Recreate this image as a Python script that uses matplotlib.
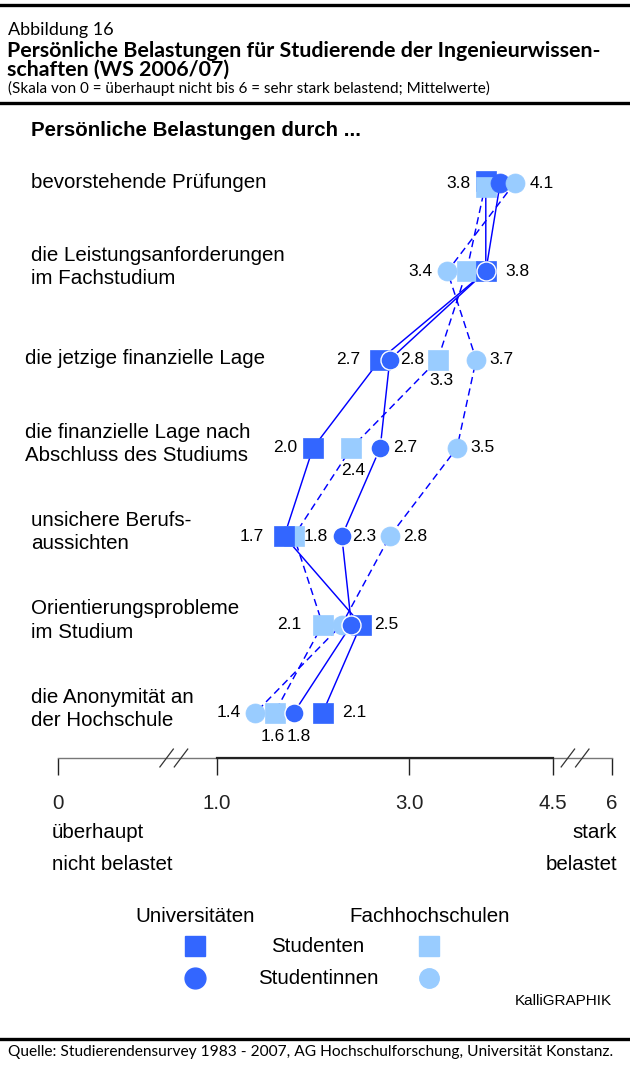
import numpy as np
import matplotlib
matplotlib.use('Agg')
import matplotlib.pyplot as plt
import matplotlib.transforms as mtransforms

# --- data -----------------------------------------------------------------
categories = [
    'bevorstehende Prüfungen',
    'die Leistungsanforderungen\nim Fachstudium',
    'die jetzige finanzielle Lage',
    'die finanzielle Lage nach\nAbschluss des Studiums',
    'unsichere Berufs-\naussichten',
    'Orientierungsprobleme\nim Studium',
    'die Anonymität an\nder Hochschule',
]
uni_m = [3.8, 3.8, 2.7, 2.0, 1.7, 2.5, 2.1]   # Universitäten, Studenten
uni_w = [3.95, 3.8, 2.8, 2.7, 2.3, 2.4, 1.8]  # Universitäten, Studentinnen
fh_m = [3.8, 3.6, 3.3, 2.4, 1.8, 2.1, 1.6]    # Fachhochschulen, Studenten
fh_w = [4.1, 3.4, 3.7, 3.5, 2.8, 2.3, 1.4]    # Fachhochschulen, Studentinnen

tick_pos = [-0.66, 1.0, 3.0, 4.5, 5.11]       # broken axis: 0 and 6 sit off-scale
tick_labels = ['0', '1.0', '3.0', '4.5', '6']

DARK = '#3366ff'
LIGHT = '#99ccff'
LINE = '#0000ff'
CHART_FONT = 'Liberation Sans'
HEAD_FONT = 'Lato'
FS = 14.8

series = {
    'fh_m': dict(vals=fh_m, marker='s', color=LIGHT, ls=(0, (5, 3)), z=3.0, edge=LIGHT),
    'uni_m': dict(vals=uni_m, marker='s', color=DARK, ls='-', z=3.1, edge=DARK),
    'uni_w': dict(vals=uni_w, marker='o', color=DARK, ls='-', z=3.4, edge='white'),
    'fh_w': dict(vals=fh_w, marker='o', color=LIGHT, ls=(0, (5, 3)), z=3.3, edge=LIGHT),
}

# top row is stacked in its own order; squares nudged apart (pixels, + = down)
nudge = {('uni_m', 0): -2, ('fh_m', 0): 4, ('uni_w', 0): 0, ('fh_w', 0): 0}

# value label placement: (series, row, dx px, dy px)
value_labels = [
    ('uni_m', 0, -15, 0), ('fh_w', 0, 15, 0),
    ('fh_w', 1, -15, 0), ('uni_w', 1, 20, 0),
    ('uni_m', 2, -20, 0), ('uni_w', 2, 10, 0), ('fh_m', 2, 4, 21), ('fh_w', 2, 13, 0),
    ('uni_m', 3, -16, 0), ('fh_m', 3, 2, 23), ('uni_w', 3, 13, 0), ('fh_w', 3, 13, 0),
    ('uni_m', 4, -20, 0), ('fh_m', 4, 10, 0), ('uni_w', 4, 10, 0), ('fh_w', 4, 13, 0),
    ('fh_m', 5, -21, 0), ('uni_m', 5, 13, 0),
    ('fh_w', 6, -15, 0), ('fh_m', 6, -2, 24), ('uni_w', 6, 5, 24), ('uni_m', 6, 20, 0),
]

W, H = 630, 1066
fig = plt.figure(figsize=(W / 100, H / 100), dpi=100)

# main chart axes: pixel layout 1.0 -> x=217, 96 px per unit; rows from y=183, 88.3 px apart
ax_top, ax_bot = 120, 758
ax = fig.add_axes([0, (H - ax_bot) / H, 1, (ax_bot - ax_top) / H])
ax.set_facecolor('none')
ax.set_xlim(1 - 217 / 96, 1 + (W - 217) / 96)
ax.set_ylim((ax_bot - 183) / 88.3, (ax_top - 183) / 88.3)
rows = np.arange(len(categories))

def px_offset(dx, dy):
    return mtransforms.ScaledTranslation(dx / 100, -dy / 100, fig.dpi_scale_trans)

# connecting lines
for key, s in series.items():
    ax.plot(s['vals'], rows, color=LINE, lw=1.05, ls=s['ls'], zorder=2)

# markers
for key, s in series.items():
    v = np.array(s['vals'], dtype=float)
    for (k, r) in nudge:
        if k == key:
            v[r] = np.nan
    ax.plot(v, rows, ls='none', marker=s['marker'], ms=13.7, mfc=s['color'],
            mec=s['edge'], mew=1.0 if s['edge'] == 'white' else 0.5, zorder=s['z'])
# top row drawn on top of the rest, in dict order
for i, ((key, r), dy) in enumerate(nudge.items()):
    s = series[key]
    ax.plot([s['vals'][r]], [r], ls='none', marker=s['marker'], ms=13.7, mfc=s['color'],
            mec=s['color'], mew=0.5, zorder=3.5 + 0.1 * i,
            transform=ax.transData + px_offset(0, dy))

# value labels
for key, r, dx, dy in value_labels:
    v = series[key]['vals'][r]
    ha = 'right' if dx < 0 and dy == 0 else ('left' if dy == 0 else 'center')
    ax.text(v, r, f'{v:.1f}', ha=ha, va='center', fontsize=12.5, family=CHART_FONT,
            transform=ax.transData + px_offset(dx, dy), zorder=5)

# category labels
lab_tr = mtransforms.blended_transform_factory(fig.transFigure, ax.transData)
for r, cat in enumerate(categories):
    x0 = 25 if cat.startswith('die jetzige') or cat.startswith('die finanzielle') else 31
    two = '\n' in cat
    ax.text(x0 / W, r, cat, ha='left', va='center', fontsize=FS, family=CHART_FONT,
            linespacing=1.28, transform=lab_tr + px_offset(0, -4 if two else -1))

# x axis (broken)
for side in ['top', 'left', 'right']:
    ax.spines[side].set_visible(False)
ax.spines['bottom'].set_bounds(tick_pos[0], tick_pos[-1])
ax.spines['bottom'].set_color('#777777')
ax.spines['bottom'].set_linewidth(1.0)
ax.plot([1.0, 4.5], [0, 0], color='#222222', lw=1.6, transform=ax.get_xaxis_transform(),
        clip_on=False, zorder=4)
ax.set_yticks([])
ax.set_xticks(tick_pos)
ax.set_xticklabels(tick_labels, fontsize=FS, family=CHART_FONT)
ax.tick_params(axis='x', direction='out', length=12, width=1.0, pad=14, colors='#222222')
for t, c in zip(ax.xaxis.get_major_ticks(), ['#777777', '#222222', '#555555', '#777777', '#777777']):
    t.tick1line.set_color(c)
for xb in [0.55, 4.73]:
    for d in [-0.075, 0.075]:
        ax.plot([xb + d - 0.07, xb + d + 0.07], [-0.014, 0.014], color='#333333', lw=0.9,
                transform=ax.get_xaxis_transform(), clip_on=False, zorder=5)

# overlay in pixel coordinates for header, footer and legend
ov = fig.add_axes([0, 0, 1, 1])
ov.set_xlim(0, W)
ov.set_ylim(H, 0)
ov.axis('off')

ov.plot([0, W], [5, 5], color='black', lw=2.4)
ov.plot([0, W], [103, 103], color='black', lw=2.4)
ov.plot([0, W], [1039, 1039], color='black', lw=2.4)

ov.text(8, 35, 'Abbildung 16', fontsize=13, family=HEAD_FONT, va='baseline')
ov.text(7, 57, 'Persönliche Belastungen für Studierende der Ingenieurwissen-', fontsize=15.4,
        family=HEAD_FONT, weight='bold', va='baseline')
ov.text(7, 76, 'schaften (WS 2006/07)', fontsize=15.4, family=HEAD_FONT, weight='bold',
        va='baseline')
ov.text(8, 93, '(Skala von 0 = überhaupt nicht bis 6 = sehr stark belastend; Mittelwerte)',
        fontsize=11, family=HEAD_FONT, va='baseline')
ov.text(8, 1052, 'Quelle: Studierendensurvey 1983 - 2007, AG Hochschulforschung, Universität Konstanz.',
        fontsize=11.2, family=HEAD_FONT, va='center')

ov.text(31, 131, 'Persönliche Belastungen durch ...', fontsize=14.8, family=CHART_FONT,
        weight='bold', va='center')

ov.text(52, 833, 'überhaupt', fontsize=FS, family=CHART_FONT, va='center')
ov.text(52, 864, 'nicht belastet', fontsize=FS, family=CHART_FONT, va='center')
ov.text(617, 833, 'stark', fontsize=FS, family=CHART_FONT, va='center', ha='right')
ov.text(617, 864, 'belastet', fontsize=FS, family=CHART_FONT, va='center', ha='right')

# legend
ov.text(195, 917, 'Universitäten', fontsize=FS, family=CHART_FONT, ha='center', va='center')
ov.text(430, 917, 'Fachhochschulen', fontsize=FS, family=CHART_FONT, ha='center', va='center')
ov.text(318, 946, 'Studenten', fontsize=FS, family=CHART_FONT, ha='center', va='center')
ov.text(318, 978, 'Studentinnen', fontsize=FS, family=CHART_FONT, ha='center', va='center')
ov.plot([195], [946], marker='s', ms=15, color=DARK, ls='none')
ov.plot([429], [946], marker='s', ms=14, color=LIGHT, ls='none')
ov.plot([195], [978], marker='o', ms=15, color=DARK, ls='none')
ov.plot([429], [978], marker='o', ms=14, color=LIGHT, ls='none')
ov.text(612, 1001, 'KalliGRAPHIK', fontsize=11, family=CHART_FONT, ha='right', va='center')

fig.savefig('out.png', dpi=100)
